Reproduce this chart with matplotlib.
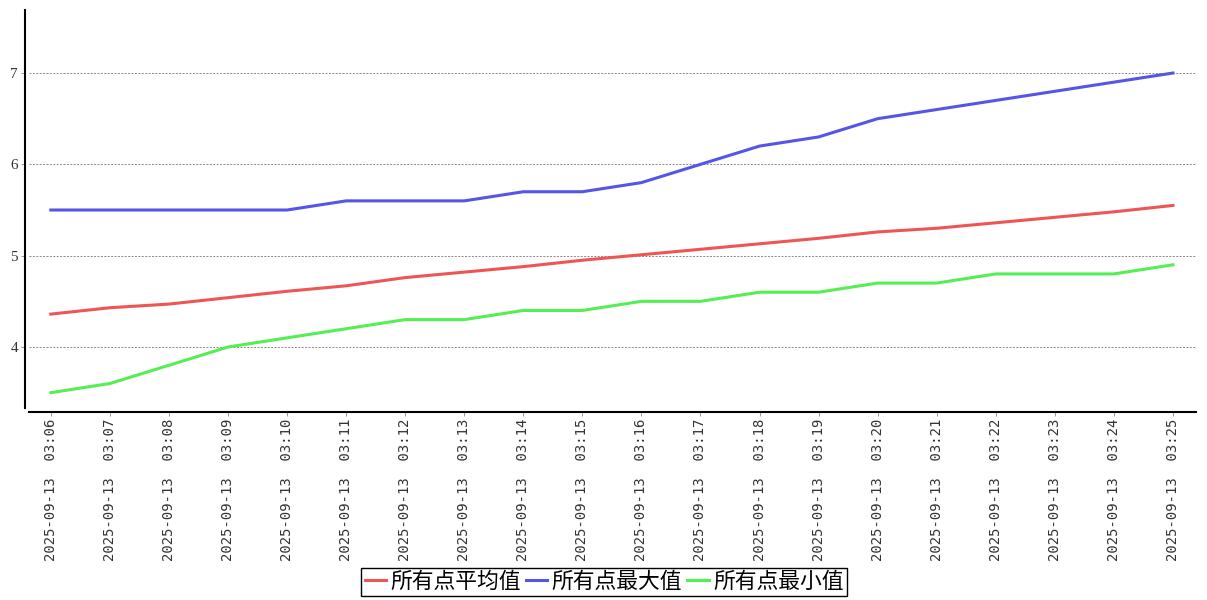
import matplotlib
matplotlib.use('Agg')
import matplotlib.pyplot as plt

times = ['2025-09-13  03:%02d' % m for m in range(6, 26)]
avg_vals = [4.36, 4.43, 4.47, 4.54, 4.61, 4.67, 4.76, 4.82, 4.88, 4.95,
            5.01, 5.07, 5.13, 5.19, 5.26, 5.30, 5.36, 5.42, 5.48, 5.55]
max_vals = [5.5, 5.5, 5.5, 5.5, 5.5, 5.6, 5.6, 5.6, 5.7, 5.7,
            5.8, 6.0, 6.2, 6.3, 6.5, 6.6, 6.7, 6.8, 6.9, 7.0]
min_vals = [3.5, 3.6, 3.8, 4.0, 4.1, 4.2, 4.3, 4.3, 4.4, 4.4,
            4.5, 4.5, 4.6, 4.6, 4.7, 4.7, 4.8, 4.8, 4.8, 4.9]
series_names = ['所有点平均值', '所有点最大值', '所有点最小值']
y_ticks = [4, 5, 6, 7]

fig = plt.figure(figsize=(12.07, 6.0), dpi=100)
ax = fig.add_axes([29 / 1207, 192 / 600, 1167 / 1207, 398 / 600])

# spines first: set_position resets the axis styling
for s in ['top', 'right']:
    ax.spines[s].set_visible(False)
ax.spines['left'].set_position(('outward', 3))
ax.spines['bottom'].set_position(('outward', 3))
ax.spines['left'].set_linewidth(1.5)
ax.spines['bottom'].set_linewidth(1.5)

x = list(range(len(times)))
ax.plot(x, avg_vals, color='#ee5555', lw=2.2, label=series_names[0])
ax.plot(x, max_vals, color='#5555e6', lw=2.2, label=series_names[1])
ax.plot(x, min_vals, color='#55ee55', lw=2.2, label=series_names[2])

ax.set_xlim(-0.37, 19.39)
ax.set_ylim(3.332, 7.69)
ax.set_yticks(y_ticks)
ax.set_yticklabels([str(v) for v in y_ticks], family='Liberation Serif', fontsize=11, color='#333333')
ax.set_xticks(x)
ax.set_xticklabels(times, rotation=90, family='DejaVu Sans Mono', fontsize=10, color='#333333')
ax.grid(axis='y', ls=(0, (2, 1.5)), color='#888888', lw=0.7)
ax.tick_params(axis='both', length=3, width=0.6, color='#888888', pad=2)

leg = fig.legend(loc='center', bbox_to_anchor=(604 / 1207, 18 / 600), ncol=3,
                 prop={'family': ['Noto Sans CJK SC', 'DejaVu Sans'], 'size': 15.7},
                 handlelength=1.0, handletextpad=0.2, columnspacing=0.2,
                 borderpad=0.15, fancybox=False, framealpha=1, edgecolor='black')
leg.get_frame().set_linewidth(1.0)

fig.savefig('out.png', dpi=100)
